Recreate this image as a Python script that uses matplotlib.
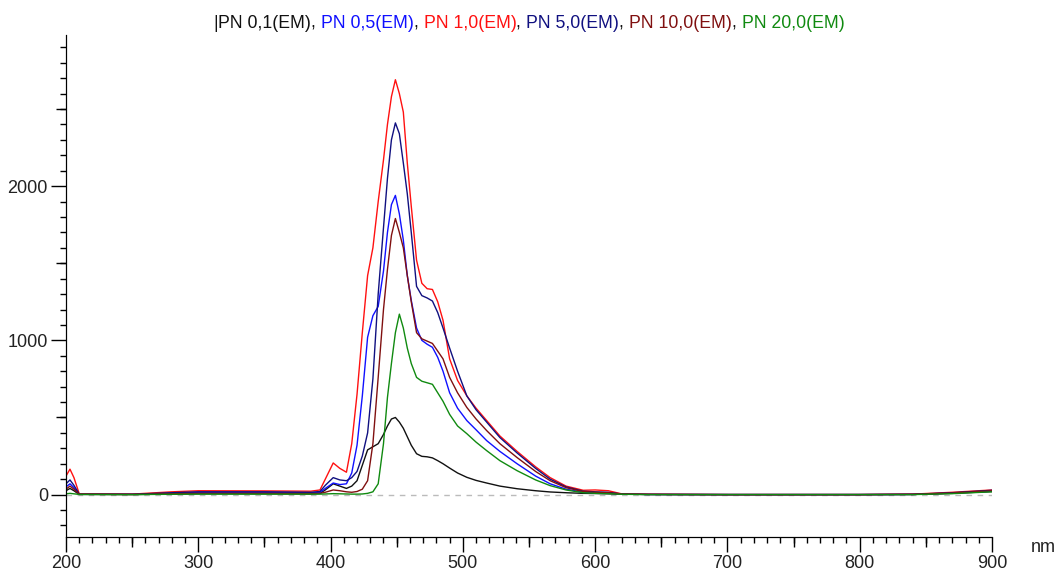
import numpy as np
import matplotlib.pyplot as plt
from matplotlib.ticker import MultipleLocator, FixedLocator

plt.rcParams['font.family'] = ['Liberation Sans', 'DejaVu Sans']

# wavelength grid (nm) and emission intensities
wl = [200, 203, 206, 210, 250, 280, 300, 350, 385, 392, 396, 402, 407, 412, 416,
      420, 424, 428, 432, 436, 440, 443, 446, 449, 452, 455, 458, 461, 465, 469,
      473, 477, 481, 485, 490, 496, 503, 510, 518, 528, 541, 555, 566, 578, 591,
      600, 610, 620, 640, 700, 800, 840, 870, 900]

pn_01 = [25, 40, 25, 1, 0, 4, 6, 6, 5, 8, 30, 70, 55, 40, 55,
         90, 190, 290, 310, 330, 390, 445, 490, 500, 470, 430, 375, 320, 265, 248,
         245, 238, 220, 200, 172, 140, 112, 92, 75, 55, 38, 25, 17, 12, 8,
         7, 5, 3, 1, 0, 0, 1, 8, 20]
pn_05 = [50, 70, 45, 2, 2, 10, 15, 15, 12, 15, 40, 75, 65, 70, 140,
         320, 640, 1020, 1160, 1220, 1450, 1700, 1880, 1940, 1820, 1650, 1420, 1260, 1080, 1000,
         975, 955, 890, 800, 660, 560, 480, 420, 350, 280, 200, 120, 70, 35, 15,
         12, 10, 3, 1, 0, 0, 1, 10, 22]
pn_10 = [120, 165, 110, 5, 3, 18, 25, 24, 22, 30, 100, 205, 170, 145, 330,
         650, 1050, 1420, 1600, 1900, 2170, 2400, 2580, 2690, 2600, 2480, 2150, 1870, 1520, 1370,
         1335, 1330, 1250, 1130, 880, 740, 640, 560, 480, 380, 280, 180, 110, 55, 28,
         30, 25, 5, 2, 0, 0, 3, 15, 30]
pn_50 = [70, 95, 60, 3, 2, 12, 18, 18, 15, 20, 60, 110, 95, 90, 110,
         150, 250, 400, 750, 1300, 1730, 2050, 2300, 2410, 2340, 2150, 1950, 1700, 1350, 1290,
         1275, 1255, 1180, 1080, 950, 800, 640, 550, 470, 370, 270, 170, 100, 50, 22,
         18, 15, 4, 1, 0, 0, 2, 12, 28]
pn_100 = [35, 55, 35, 2, 1, 5, 8, 8, 6, 8, 15, 30, 25, 18, 15,
          20, 35, 90, 330, 760, 1200, 1460, 1680, 1790, 1700, 1600, 1420, 1250, 1050, 1010,
          995, 980, 930, 880, 760, 660, 565, 490, 415, 330, 240, 150, 90, 45, 20,
          15, 12, 3, 1, 0, 0, 1, 10, 25]
pn_200 = [5, 8, 5, 1, 0, 2, 3, 3, 3, 3, 4, 6, 5, 4, 3,
          3, 4, 8, 18, 70, 330, 630, 850, 1050, 1170, 1080, 950, 850, 760, 735,
          725, 715, 660, 605, 520, 445, 395, 340, 285, 220, 155, 95, 58, 30, 12,
          8, 6, 2, 0, 0, 0, 0, 6, 18]

labels = ['PN 0,1(EM)', 'PN 0,5(EM)', 'PN 1,0(EM)', 'PN 5,0(EM)', 'PN 10,0(EM)', 'PN 20,0(EM)']
colors = ['#111111', '#1010ff', '#ff1010', '#101080', '#801010', '#108a10']
series = [pn_01, pn_05, pn_10, pn_50, pn_100, pn_200]

fig = plt.figure(figsize=(10.58, 5.70), dpi=100)
ax = fig.add_axes([66/1058, 33/570, 926/1058, 502/570])

ax.axhline(0, color='#bbbbbb', lw=1, ls=(0, (4, 4)), zorder=0)
for y, c in zip(series, colors):
    ax.plot(wl, y, color=c, lw=1.0)

ax.set_xlim(200, 900)
ax.set_ylim(-275, 2980)
for s in ['top', 'right']:
    ax.spines[s].set_visible(False)

ax.xaxis.set_major_locator(MultipleLocator(100))
ax.xaxis.set_minor_locator(MultipleLocator(10))
ax.yaxis.set_major_locator(FixedLocator([0, 1000, 2000]))
ax.yaxis.set_minor_locator(MultipleLocator(100))
ax.tick_params(which='major', length=11, width=1, labelsize=13, labelcolor='#222222', pad=2)
ax.tick_params(which='minor', length=4, width=1)

# medium ticks at the half steps
secx = ax.secondary_xaxis('bottom')
secx.set_xticks(np.arange(250, 900, 100))
secx.tick_params(length=7, width=1, labelbottom=False)
secy = ax.secondary_yaxis('left')
secy.set_yticks([500, 1500, 2500])
secy.tick_params(length=7, width=1, labelleft=False)

fig.text(1043/1058, 1 - 547/570, 'nm', ha='center', va='center', fontsize=13, color='#222222')

# coloured title pieces
pieces = [('|', '#111111')]
for i, (lab, c) in enumerate(zip(labels, colors)):
    pieces.append((lab, c))
    if i < len(labels) - 1:
        pieces.append((', ', '#111111'))

fs = 12.7
r = fig.canvas.get_renderer()
def text_w(s):
    t = fig.text(0, 0, s + 'X', fontsize=fs)
    w = t.get_window_extent(r).width
    t.remove()
    t = fig.text(0, 0, 'X', fontsize=fs)
    w -= t.get_window_extent(r).width
    t.remove()
    return w

full = ''.join(p[0] for p in pieces)
x0 = 529 - text_w(full) / 2
prefix = ''
for s, c in pieces:
    fig.text((x0 + text_w(prefix)) / 1058, 1 - 23/570, s, color=c, fontsize=fs, va='center')
    prefix += s

fig.savefig('out.png', dpi=100)
